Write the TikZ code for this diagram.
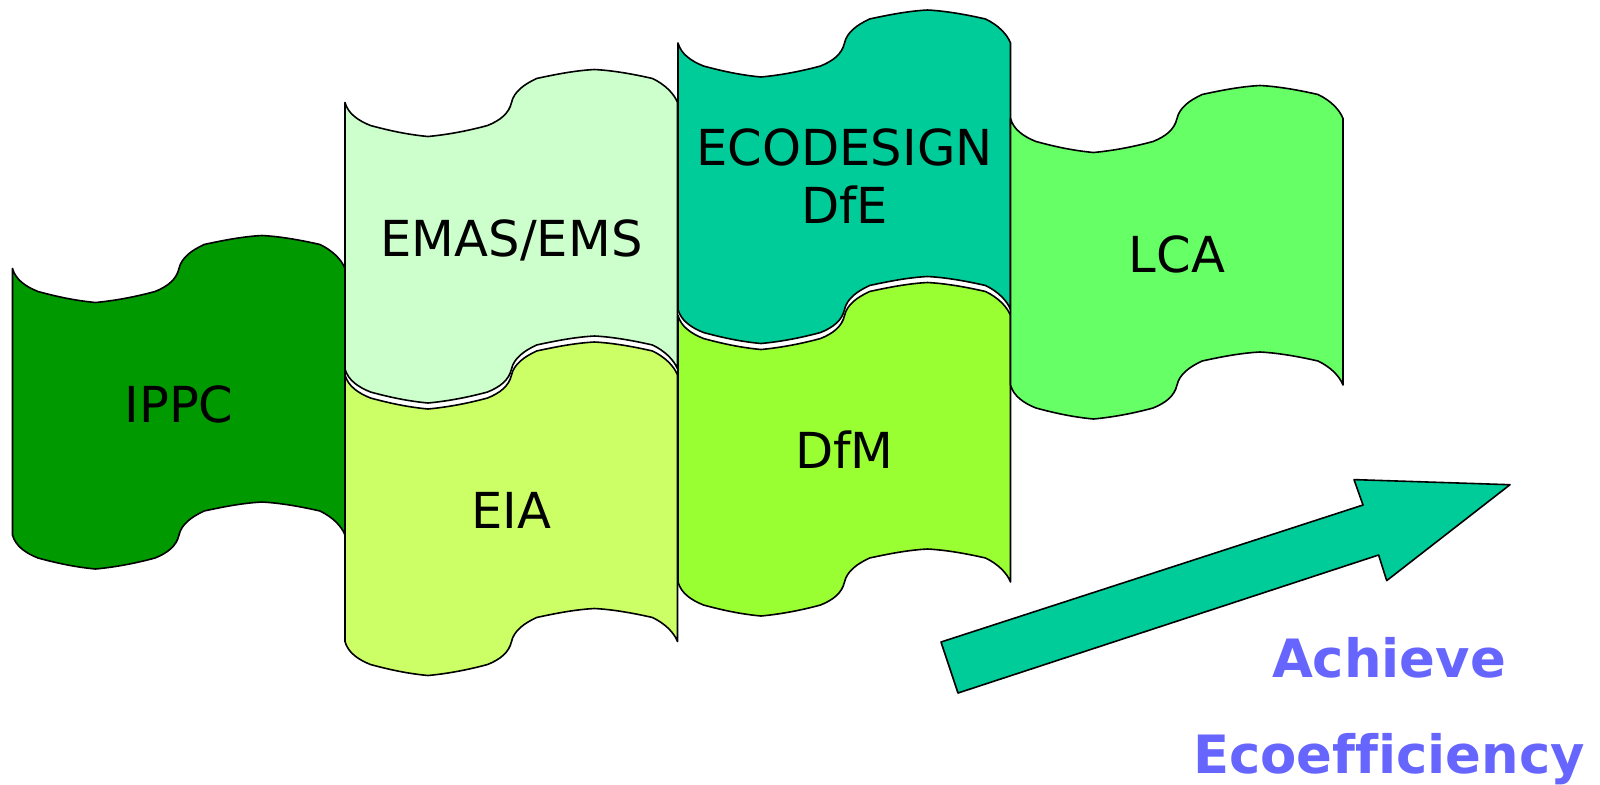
\documentclass[tikz,border=0pt]{standalone}
\usepackage{fontspec}
\setmainfont{DejaVu Sans}
\definecolor{cIPPC}{HTML}{009900}
\definecolor{cEMAS}{HTML}{CCFFCC}
\definecolor{cEIA}{HTML}{CCFF66}
\definecolor{cECO}{HTML}{00CC99}
\definecolor{cDFM}{HTML}{99FF33}
\definecolor{cLCA}{HTML}{66FF66}
\definecolor{cTXT}{HTML}{6666FF}
\tikzset{
  flagshape/.style={draw=black,line width=0.8pt,line join=round},
  flaglabel/.style={font=\fontsize{24.8}{29}\selectfont,text=black,align=center,inner sep=0pt,text height=18pt,text depth=0pt},
  bluelabel/.style={font=\fontsize{26.4}{30}\selectfont\bfseries,text=cTXT,inner sep=0pt,text height=19.5pt,text depth=0pt},
}
\newcommand{\flagat}[6]{%
\begin{scope}[shift={(#1,#2)}]
\path[flagshape,fill=#3] (0,0)
 .. controls (3,11) and (13,18) .. (25.5,23)
 .. controls (44,28) and (62,32) .. (83,34)
 .. controls (104,32) and (124,28) .. (142.5,23)
 .. controls (155,18) and (164,11) .. (166.5,0)
 .. controls (169,-11) and (179,-18) .. (191.5,-24)
 .. controls (210,-28) and (230,-32) .. (249.5,-33)
 .. controls (269,-32) and (290,-28) .. (307.5,-24)
 .. controls (320,-18) and (329,-9) .. (332.5,0)
 -- (332.5,266.5)
 .. controls (329,257.5) and (320,248.5) .. (307.5,242.5)
 .. controls (290,238.5) and (269,234.5) .. (249.5,233.5)
 .. controls (230,234.5) and (210,238.5) .. (191.5,242.5)
 .. controls (179,248.5) and (169,255.5) .. (166.5,266.5)
 .. controls (164,277.5) and (155,284.5) .. (142.5,289.5)
 .. controls (124,294.5) and (104,298.5) .. (83,300.5)
 .. controls (62,298.5) and (44,294.5) .. (25.5,289.5)
 .. controls (13,284.5) and (3,277.5) .. (0,266.5)
 -- cycle;
\node[flaglabel] (#4) at (166.5,#6) {#5};
\end{scope}}
\begin{document}
\begin{tikzpicture}[x=0.5pt,y=-0.5pt]
\useasboundingbox (0,0) rectangle (1600,784);
\flagat{12.5}{268.5}{cIPPC}{ippc}{IPPC}{135.5}
\flagat{345}{375}{cEIA}{eia}{EIA}{135.5}
\flagat{345}{102.5}{cEMAS}{emas}{EMAS/EMS}{135.5}
\flagat{678}{315.5}{cDFM}{dfm}{DfM}{134.5}
\flagat{678}{43}{cECO}{eco}{ECODESIGN\\DfE}{162.5}
\flagat{1010.5}{118.5}{cLCA}{lca}{LCA}{135.5}
\path[flagshape,fill=cECO] (941,642) -- (1363,505) -- (1354,479.6) -- (1510,484.7) -- (1386.7,580.6) -- (1378.6,555) -- (958,693) -- cycle;
\node[bluelabel] (achieve) at (1389,658) {Achieve};
\node[bluelabel] (ecoeff) at (1389,754) {Ecoef\kern0ptf\kern0pticiency};
\end{tikzpicture}
\end{document}
